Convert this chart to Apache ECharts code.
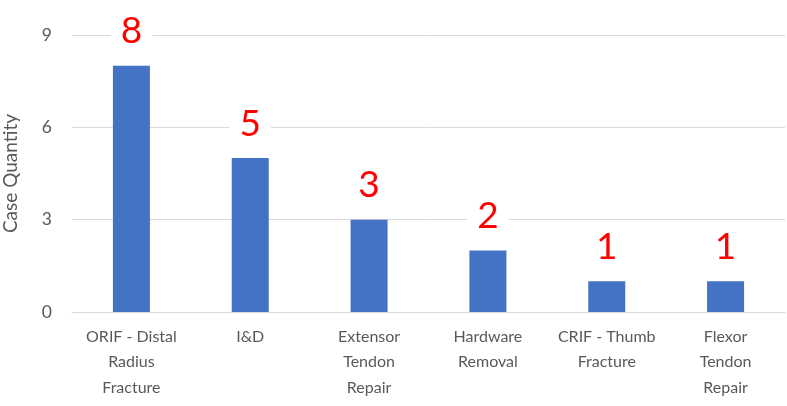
<!DOCTYPE html>
<html>
<head>
<meta charset="utf-8">
<script src="https://cdn.jsdelivr.net/npm/echarts@6/dist/echarts.min.js"></script>
<style>
  html, body { margin: 0; padding: 0; background: #fff; }
  #main { width: 787px; height: 406px; }
</style>
</head>
<body>
<div id="main"></div>
<script>
var categories = ['ORIF - Distal\nRadius\nFracture', 'I&D', 'Extensor\nTendon\nRepair',
                  'Hardware\nRemoval', 'CRIF - Thumb\nFracture', 'Flexor\nTendon\nRepair'];
var caseQty = [8, 5, 3, 2, 1, 1];
var yTicks = [0, 3, 6, 9];

var box = echarts.init(document.getElementById('main'));
var option = {
    animation: false,
    grid: { left: 72, right: 2, top: 35, bottom: 94, outerBoundsMode: 'none', containLabel: false },
    xAxis: {
        type: 'category',
        data: categories,
        axisLine: { lineStyle: { color: '#d9d9d9' } },
        axisTick: { show: false },
        axisLabel: {
            color: '#595959', fontSize: 16, fontFamily: 'Lato',
            lineHeight: 25.5, margin: 12, interval: 0
        }
    },
    yAxis: {
        type: 'value',
        min: yTicks[0],
        max: yTicks[yTicks.length - 1],
        interval: 3,
        name: 'Case Quantity',
        nameLocation: 'middle',
        nameGap: 52,
        nameTextStyle: { color: '#595959', fontSize: 19, fontFamily: 'Lato' },
        axisLine: { show: false },
        axisTick: { show: false },
        axisLabel: { color: '#595959', fontSize: 17.5, fontFamily: 'Lato', margin: 20 },
        splitLine: { lineStyle: { color: '#d9d9d9' } }
    },
    series: [{
        type: 'bar',
        data: caseQty,
        barWidth: 37,
        itemStyle: { color: '#4472C4' },
        label: {
            show: true,
            position: 'top',
            distance: 16,
            color: '#ff0000',
            fontSize: 37,
            fontFamily: 'Lato',
            backgroundColor: '#ffffff',
            padding: [0, 10]
        }
    }]
};
box.setOption(option);
</script>
</body>
</html>
